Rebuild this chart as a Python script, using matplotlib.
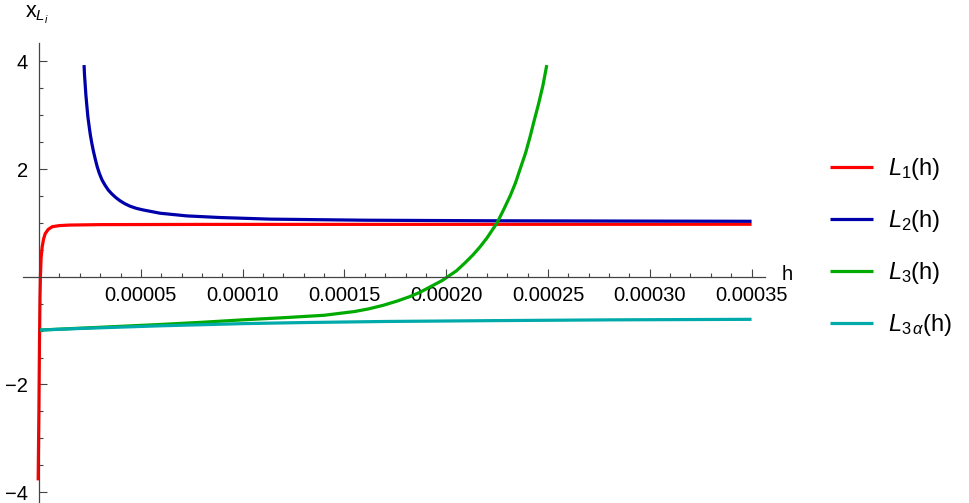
import matplotlib
matplotlib.use("Agg")
import matplotlib.pyplot as plt
from matplotlib.ticker import FixedLocator, NullFormatter

plt.rcParams['font.family'] = ['Liberation Sans', 'DejaVu Sans']
plt.rcParams['mathtext.fontset'] = 'custom'
plt.rcParams['mathtext.rm'] = 'Liberation Sans'
plt.rcParams['mathtext.it'] = 'Liberation Sans:italic'

# L1(h)
l1_h = [-4.5e-7, -1e-7, 2e-7, 4.5e-7, 6.5e-7, 1.0e-6, 1.5e-6, 2.2e-6, 3e-6, 4.5e-6,
        6.5e-6, 1e-5, 1.5e-5, 3e-5, 8e-5, 3.5e-4]
l1_x = [-3.78, -2.5, -1.2, -0.4, 0.0, 0.35, 0.55, 0.7, 0.8, 0.88,
        0.93, 0.95, 0.96, 0.968, 0.972, 0.975]

# L2(h)
l2_h = [2.21e-5, 2.23e-5, 2.26e-5, 2.30e-5, 2.35e-5, 2.40e-5, 2.46e-5, 2.52e-5, 2.59e-5,
        2.67e-5, 2.75e-5, 2.85e-5, 2.96e-5, 3.09e-5, 3.24e-5, 3.40e-5, 3.57e-5, 3.77e-5,
        3.98e-5, 4.22e-5, 4.47e-5, 4.78e-5, 5.12e-5, 5.94e-5, 7.26e-5, 8.89e-5, 1.135e-4,
        1.6e-4, 2.2e-4, 2.8e-4, 3.5e-4]
l2_x = [3.93, 3.76, 3.59, 3.37, 3.16, 2.96, 2.79, 2.63, 2.48,
        2.33, 2.20, 2.05, 1.92, 1.80, 1.70, 1.61, 1.54, 1.47,
        1.41, 1.355, 1.31, 1.27, 1.24, 1.18, 1.13, 1.10, 1.07,
        1.05, 1.04, 1.035, 1.03]

# L3(h)
l3_h = [0.0, 2e-5, 4e-5, 6e-5, 8e-5, 1.0e-4, 1.2e-4, 1.4e-4, 1.55e-4, 1.62e-4, 1.69e-4,
        1.76e-4, 1.82e-4, 1.87e-4, 1.91e-4, 1.98e-4, 2.05e-4, 2.09e-4, 2.13e-4, 2.165e-4,
        2.2e-4, 2.248e-4, 2.28e-4, 2.314e-4, 2.34e-4, 2.363e-4, 2.39e-4, 2.412e-4,
        2.43e-4, 2.453e-4, 2.475e-4, 2.494e-4]
l3_x = [-0.99, -0.955, -0.92, -0.885, -0.845, -0.80, -0.76, -0.715, -0.645, -0.595, -0.53,
        -0.45, -0.37, -0.29, -0.21, -0.07, 0.11, 0.25, 0.40, 0.55,
        0.72, 0.99, 1.23, 1.5, 1.74, 2.0, 2.3, 2.6,
        2.87, 3.2, 3.55, 3.93]

# L3alpha(h)
l3a_h = [0.0, 2e-5, 4e-5, 6e-5, 8e-5, 1e-4, 1.3e-4, 1.7e-4, 2.2e-4, 2.8e-4, 3.5e-4]
l3a_x = [-0.99, -0.96, -0.935, -0.91, -0.89, -0.87, -0.85, -0.83, -0.815, -0.80, -0.79]

x_major = [5e-5, 1e-4, 1.5e-4, 2e-4, 2.5e-4, 3e-4, 3.5e-4]
x_labels = ["0.00005", "0.00010", "0.00015", "0.00020", "0.00025", "0.00030", "0.00035"]
x_minor = [i * 1e-5 for i in range(1, 36) if i % 5 != 0]
y_major = [-4, -2, 2, 4]
y_minor = [k * 0.5 for k in range(-8, 9) if k % 4 != 0]

W, H = 969, 503
fig = plt.figure(figsize=(W / 100, H / 100), dpi=100)
ax = fig.add_axes([23 / W, 0, 742 / W, 460 / H])

lw = 2.3
ax.plot(l1_h, l1_x, color='#FF0000', lw=lw, label=r'$L_1$(h)', solid_capstyle='butt')
ax.plot(l2_h, l2_x, color='#0000AA', lw=lw, label=r'$L_2$(h)', solid_capstyle='butt')
ax.plot(l3_h, l3_x, color='#00AA00', lw=lw, label=r'$L_3$(h)', solid_capstyle='butt')
ax.plot(l3a_h, l3a_x, color='#00AAAA', lw=lw, label=r'$L_{3\,\alpha}$(h)', solid_capstyle='butt')

ax.set_xlim(-7.9e-6, 3.566e-4)
ax.set_ylim(-4.2, 4.34)

for s in ['top', 'right']:
    ax.spines[s].set_visible(False)
for s in ['left', 'bottom']:
    ax.spines[s].set_position(('data', 0))
    ax.spines[s].set_color('#444444')
    ax.spines[s].set_linewidth(0.9)

ax.xaxis.set_major_locator(FixedLocator(x_major))
ax.set_xticklabels(x_labels)
ax.xaxis.set_minor_locator(FixedLocator(x_minor))
ax.yaxis.set_major_locator(FixedLocator(y_major))
ax.yaxis.set_minor_locator(FixedLocator(y_minor))
ax.yaxis.set_minor_formatter(NullFormatter())

ax.tick_params(axis='x', which='major', direction='in', length=5.5, width=0.8,
               color='#444444', labelsize=14.5, pad=7)
ax.tick_params(axis='y', which='major', direction='in', length=5.5, width=0.8,
               color='#444444', labelsize=14.5, pad=8)
ax.tick_params(which='minor', direction='in', length=3.1, width=0.8, color='#444444')

fig.text(782 / W, 1 - 275 / H, 'h', fontsize=14.5, ha='left', va='center')
fig.text(25 / W, 1 - 18 / H, r'$\mathrm{x}_{L_i}$', fontsize=15.5, ha='left', va='baseline')

fig.legend(loc='center left', bbox_to_anchor=(830 / W, 1 - 247 / H), frameon=False,
           fontsize=17, handlelength=1.82, handletextpad=0.64, labelspacing=1.1,
           borderpad=0, borderaxespad=0)

fig.savefig('out.png', dpi=100)
